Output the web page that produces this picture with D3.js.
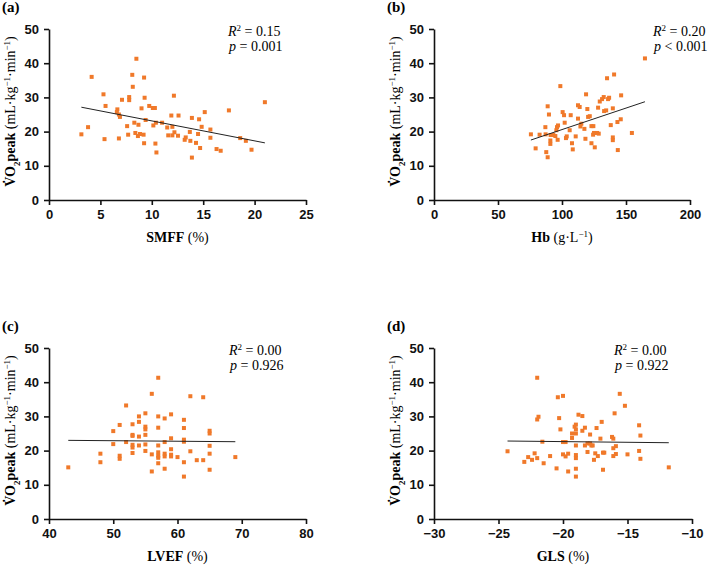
<!DOCTYPE html>
<html>
<head>
<meta charset="utf-8">
<script src="https://cdn.jsdelivr.net/npm/d3@7"></script>
<style>
  body { margin: 0; background: #fff; }
  svg { display: block; }
  .tick text { font-family: "Liberation Sans", Arial, sans-serif; font-weight: bold; font-size: 13px; fill: #111; }
</style>
</head>
<body>
<div id="chart"></div>
<script>
// panel (a) SMFF
const smffX = [3.15, 3.8, 4.15, 5.3, 5.5, 5.4, 6.65, 6.6, 6.8, 6.9, 6.8, 7.1, 7.6, 7.7, 7.8, 7.8, 8.1, 8.15, 8.5, 8.3, 8.4, 8.7, 8.65, 8.85, 9.0, 9.2, 9.25, 9.3, 9.25, 9.4, 9.75, 10.1, 10.3, 10.15, 10.4, 10.35, 10.45, 11.0, 11.5, 11.6, 11.9, 12.0, 12.0, 12.15, 12.2, 12.55, 12.6, 13.2, 13.3, 13.75, 13.7, 13.9, 13.9, 14.3, 14.5, 14.6, 14.7, 14.85, 15.15, 15.7, 15.7, 16.3, 16.7, 17.5, 18.6, 19.15, 19.7, 21.0];
const smffY = [19.2, 21.3, 36.0, 30.9, 27.5, 17.8, 26.5, 25.7, 25.0, 24.3, 18.0, 29.3, 21.6, 19.1, 30.1, 29.2, 36.6, 33.1, 41.3, 22.6, 19.6, 22.0, 18.7, 19.3, 26.8, 19.1, 35.8, 29.9, 16.6, 23.4, 27.5, 26.9, 26.9, 21.8, 22.6, 16.5, 13.9, 22.6, 21.2, 18.9, 24.7, 21.4, 18.9, 30.5, 19.8, 18.8, 24.7, 17.6, 18.3, 17.3, 19.9, 12.4, 24.0, 16.7, 19.3, 23.6, 15.2, 21.4, 25.7, 20.6, 18.2, 14.9, 14.4, 26.2, 18.1, 17.3, 14.7, 28.6];

// panel (b) Hb
const hbX = [75.7, 79.4, 82.5, 87.0, 87.2, 87.7, 88.8, 88.8, 89.8, 91.1, 90.9, 90.9, 93.2, 94.8, 95.6, 96.1, 96.9, 96.6, 98.7, 100.5, 101.6, 102.1, 103.1, 103.7, 106.0, 106.8, 107.8, 108.4, 110.7, 112.5, 112.5, 113.8, 114.4, 115.1, 117.5, 118.3, 118.8, 119.8, 120.4, 121.7, 123.0, 123.0, 124.3, 124.5, 125.6, 125.0, 127.4, 128.7, 128.2, 129.5, 131.3, 132.6, 132.9, 134.5, 135.2, 136.0, 136.8, 138.1, 139.7, 139.7, 139.7, 140.7, 143.3, 143.6, 145.9, 146.2, 154.6, 164.8];
const hbY = [19.2, 15.1, 19.1, 21.3, 19.2, 14.0, 12.5, 27.4, 25.0, 19.0, 17.4, 16.4, 19.0, 18.7, 20.4, 21.3, 21.8, 17.6, 33.3, 25.7, 24.8, 22.6, 18.1, 18.6, 20.4, 24.8, 16.6, 14.8, 18.6, 23.8, 27.7, 27.2, 21.5, 22.3, 20.8, 17.9, 30.9, 26.6, 24.3, 24.5, 21.6, 16.6, 19.1, 21.6, 15.4, 19.6, 19.6, 19.4, 27.0, 28.8, 29.5, 30.1, 26.0, 26.2, 35.6, 29.5, 29.9, 21.9, 26.8, 18.3, 17.5, 36.7, 22.8, 14.6, 23.6, 30.6, 19.6, 41.4];

// panel (c) LVEF
const lvefX = [43, 48, 48, 50, 50, 51, 51, 51, 52, 52, 53, 53, 53, 53, 53, 53, 54, 54, 54, 54, 55, 55, 55, 55, 55, 55, 56, 56, 56, 57, 57, 57, 57, 57, 57, 57, 57, 58, 58, 58, 58, 58, 59, 59, 59, 59, 59, 60, 61, 61, 61, 61, 61, 61, 62, 62, 63, 64, 64, 65, 65, 65, 65, 65, 69];
const lvefY = [15.1, 19.1, 16.6, 25.7, 21.9, 27.5, 18.5, 17.6, 33.2, 22.5, 27.7, 24.6, 24.3, 21.7, 20.9, 19.3, 30.0, 28.4, 24.1, 21.5, 30.9, 27.0, 26.2, 24.6, 21.8, 19.9, 36.6, 18.9, 13.9, 41.3, 30.0, 26.7, 21.5, 19.5, 18.5, 17.9, 16.3, 29.4, 22.5, 19.1, 18.3, 14.7, 30.6, 23.6, 20.4, 18.8, 18.3, 18.1, 29.0, 26.6, 23.2, 22.6, 16.6, 12.4, 35.9, 19.8, 17.2, 35.6, 17.2, 25.8, 25.0, 21.4, 19.1, 14.4, 18.1];

// panel (d) GLS
const glsX = [-24.3, -23.0, -22.7, -22.2, -22.4, -22.0, -22.0, -22.0, -21.9, -21.6, -21.5, -21.0, -20.5, -20.4, -20.3, -20.2, -20.0, -20.0, -20.0, -19.8, -19.8, -19.6, -19.6, -19.3, -19.3, -19.1, -19.0, -19.0, -19.0, -19.0, -19.0, -19.0, -19.0, -19.0, -18.8, -18.5, -18.5, -18.3, -18.3, -18.1, -18.1, -17.9, -17.9, -17.8, -17.7, -17.6, -17.5, -17.4, -17.3, -17.1, -17.0, -16.9, -16.9, -16.8, -16.2, -16.1, -16.1, -16.1, -16.0, -15.9, -15.9, -15.6, -15.2, -15.0, -14.1, -14.1, -14.0, -14.0, -11.8];
const glsY = [19.8, 16.7, 18.1, 19.2, 17.3, 17.8, 41.3, 29.1, 29.9, 22.6, 16.3, 18.4, 14.8, 35.6, 29.5, 26.2, 36.0, 18.9, 22.5, 22.5, 18.3, 19.1, 13.9, 23.7, 25.0, 27.0, 27.6, 26.2, 25.0, 21.5, 18.7, 17.8, 14.7, 12.4, 30.5, 30.1, 25.8, 26.7, 21.5, 19.6, 22.1, 24.7, 22.1, 21.5, 21.5, 17.3, 19.2, 26.6, 18.4, 23.5, 28.4, 19.4, 14.4, 19.4, 24.0, 23.5, 20.7, 18.4, 30.9, 19.0, 21.3, 36.6, 33.1, 18.9, 19.9, 27.4, 24.4, 17.6, 15.1];

// regression lines as [intercept, slope]
const fitA = [28.97, -0.584];
const fitB = [8.02, 0.1257];
const fitC = [23.66, -0.0154];
const fitD = [21.83, -0.04];

const xDomains = [[0, 25], [0, 200], [40, 80], [-30, -10]];
const xTicks = [[0, 5, 10, 15, 20, 25], [0, 50, 100, 150, 200], [40, 50, 60, 70, 80], [-30, -25, -20, -15, -10]];
const yTicks = [0, 10, 20, 30, 40, 50];
const letters = ['(a)', '(b)', '(c)', '(d)'];
const xNames = [['SMFF', ' (%)'], ['Hb', ' (g·L', '−1', ')'], ['LVEF', ' (%)'], ['GLS', ' (%)']];
const r2Text = ['0.15', '0.20', '0.00', '0.00'];
const pText = [['=', '0.001'], ['<', '0.001'], ['=', '0.926'], ['=', '0.922']];

const panels = [
  { xs: smffX, ys: smffY, fit: fitA, left: 49, right: 306, top: 29, bottom: 200, ann: 228 },
  { xs: hbX, ys: hbY, fit: fitB, left: 434, right: 690, top: 29, bottom: 200, ann: 653 },
  { xs: lvefX, ys: lvefY, fit: fitC, left: 49, right: 306, top: 348, bottom: 519, ann: 229 },
  { xs: glsX, ys: glsY, fit: fitD, left: 434, right: 692, top: 348, bottom: 519, ann: 614 }
];

const W = 709, H = 566;
const serif = '"Liberation Serif", "Times New Roman", serif';
const orange = '#f0792a';

const svg = d3.select('#chart').append('svg')
  .attr('width', W)
  .attr('height', H);

panels.forEach((p, i) => {
  const x = d3.scaleLinear().domain(xDomains[i]).range([p.left, p.right]);
  const y = d3.scaleLinear().domain([0, 50]).range([p.bottom, p.top]);
  const g = svg.append('g');

  // axes
  const xAxis = g.append('g')
    .attr('transform', `translate(0,${p.bottom})`)
    .call(d3.axisBottom(x).tickValues(xTicks[i]).tickSize(5).tickSizeOuter(0).tickPadding(5));
  const yAxis = g.append('g')
    .attr('transform', `translate(${p.left},0)`)
    .call(d3.axisLeft(y).tickValues(yTicks).tickSize(5).tickSizeOuter(0).tickPadding(5));
  [xAxis, yAxis].forEach(a => {
    a.select('.domain').attr('stroke', '#111').attr('stroke-width', 1.6);
    a.selectAll('.tick line').attr('stroke', '#111').attr('stroke-width', 1.6);
  });

  // points
  g.append('g')
    .selectAll('rect')
    .data(p.xs.map((v, k) => [v, p.ys[k]]))
    .enter().append('rect')
    .attr('x', d => x(d[0]) - 2)
    .attr('y', d => y(d[1]) - 2)
    .attr('width', 4)
    .attr('height', 4)
    .attr('fill', orange);

  // regression line over data range
  const ext = d3.extent(p.xs);
  g.append('line')
    .attr('x1', x(ext[0]))
    .attr('y1', y(p.fit[0] + p.fit[1] * ext[0]))
    .attr('x2', x(ext[1]))
    .attr('y2', y(p.fit[0] + p.fit[1] * ext[1]))
    .attr('stroke', '#222')
    .attr('stroke-width', 1);

  // panel letter
  g.append('text')
    .attr('x', p.left - 47)
    .attr('y', p.top - 17)
    .attr('font-family', serif)
    .attr('font-weight', 'bold')
    .attr('font-size', 15)
    .text(letters[i]);

  // x title
  const xt = g.append('text')
    .attr('x', (p.left + p.right) / 2)
    .attr('y', p.bottom + 42)
    .attr('text-anchor', 'middle')
    .attr('font-family', serif)
    .attr('font-size', 14);
  xNames[i].forEach((s, k) => {
    const t = xt.append('tspan').text(s);
    if (k === 0) t.attr('font-weight', 'bold');
    if (s === '−1') t.attr('baseline-shift', 'super').attr('font-size', 9);
  });

  // y title
  const yt = g.append('text')
    .attr('transform', `translate(${p.left - 34},${(p.top + p.bottom) / 2 - 3}) rotate(-90)`)
    .attr('text-anchor', 'middle')
    .attr('font-family', serif)
    .attr('font-size', 14);
  yt.append('tspan').attr('font-weight', 'bold').text('V\u0307O');
  yt.append('tspan').attr('font-weight', 'bold').attr('baseline-shift', 'sub').attr('font-size', 9).text('2');
  yt.append('tspan').attr('font-weight', 'bold').text('peak');
  yt.append('tspan').text(' (mL·kg');
  yt.append('tspan').attr('baseline-shift', 'super').attr('font-size', 9).text('−1');
  yt.append('tspan').text('·min');
  yt.append('tspan').attr('baseline-shift', 'super').attr('font-size', 9).text('−1');
  yt.append('tspan').text(')');

  // annotation
  const a1 = g.append('text')
    .attr('x', p.ann)
    .attr('y', p.top + 7)
    .attr('font-family', serif)
    .attr('font-size', 14);
  a1.append('tspan').attr('font-style', 'italic').text('R');
  a1.append('tspan').attr('baseline-shift', 'super').attr('font-size', 9).text('2');
  a1.append('tspan').text(' = ' + r2Text[i]);
  const a2 = g.append('text')
    .attr('x', p.ann + 1)
    .attr('y', p.top + 22)
    .attr('font-family', serif)
    .attr('font-size', 14);
  a2.append('tspan').attr('font-style', 'italic').text('p');
  a2.append('tspan').text(' ' + pText[i][0] + ' ' + pText[i][1]);
});
</script>
</body>
</html>
